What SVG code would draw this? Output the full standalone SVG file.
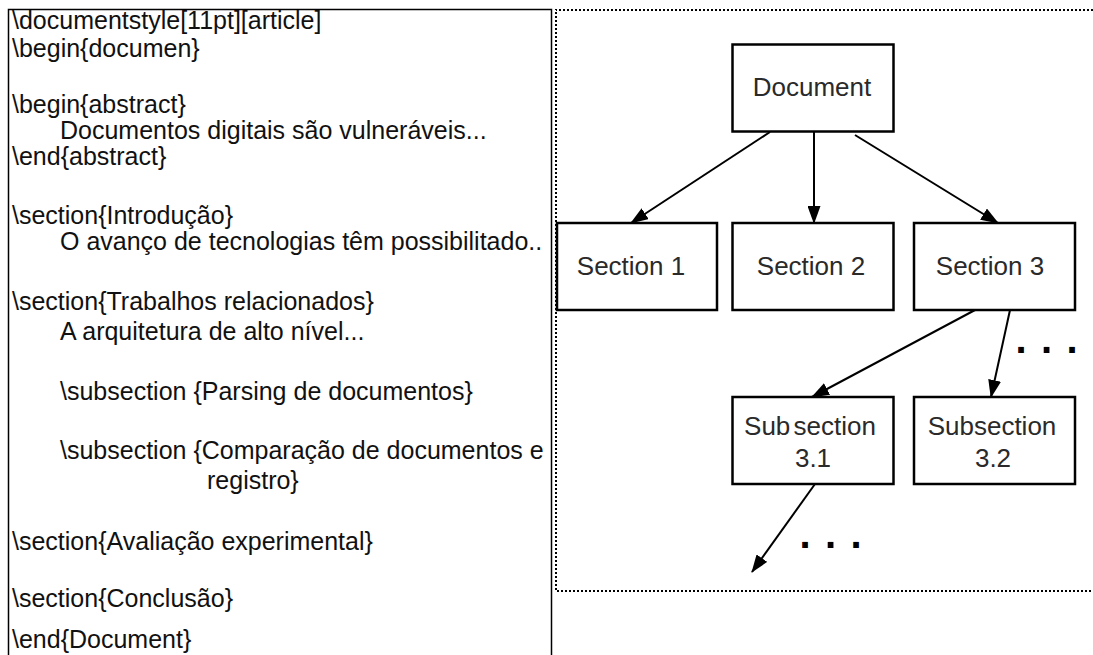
<svg xmlns="http://www.w3.org/2000/svg" width="1093" height="655" viewBox="0 0 1093 655">
<defs>
<style>
.src{font-family:"Liberation Sans",Arial,sans-serif;font-size:25px;fill:#111;}
.box{fill:#fff;stroke:#000;stroke-width:2.5;}
.lbl{font-family:"Liberation Sans",Arial,sans-serif;font-size:26px;fill:#2a2a2a;text-anchor:middle;}
.edge{stroke:#000;stroke-width:2;fill:none;marker-end:url(#ah);}
.dots{font-family:"Liberation Sans",Arial,sans-serif;font-weight:bold;font-size:40px;fill:#000;letter-spacing:14.4px;}
</style>
<marker id="ah" viewBox="0 0 18 13" refX="17" refY="6.5" markerWidth="18" markerHeight="13" markerUnits="userSpaceOnUse" orient="auto">
<path d="M0,0 L18,6.5 L0,13 z" fill="#000"/>
</marker>
</defs>
<rect width="1093" height="655" fill="#fff"/>
<g id="source-panel">
<path d="M8.5,660 V9.5 H551.5 V660" fill="none" stroke="#000" stroke-width="1.5"/>
<text class="src" x="12" y="29">\documentstyle[11pt][article]</text>
<text class="src" x="12" y="57">\begin{documen}</text>
<text class="src" x="12" y="113">\begin{abstract}</text>
<text class="src" x="60" y="139">Documentos digitais são vulneráveis...</text>
<text class="src" x="12" y="165">\end{abstract}</text>
<text class="src" x="12" y="224">\section{Introdução}</text>
<text class="src" x="60" y="250">O avanço de tecnologias têm possibilitado..</text>
<text class="src" x="12" y="310">\section{Trabalhos relacionados}</text>
<text class="src" x="60" y="340">A arquitetura de alto nível...</text>
<text class="src" x="60" y="400">\subsection {Parsing de documentos}</text>
<text class="src" x="60" y="459">\subsection {Comparação de documentos e</text>
<text class="src" x="207" y="489">registro}</text>
<text class="src" x="12" y="550">\section{Avaliação experimental}</text>
<text class="src" x="12" y="607">\section{Conclusão}</text>
<text class="src" x="12" y="648">\end{Document}</text>
</g>
<g id="tree-frame">
<path d="M1093,9.5 H555.5 V590.5 H1093" fill="none" stroke="#000" stroke-width="2" stroke-dasharray="2 2" shape-rendering="crispEdges"/>
</g>
<g id="connectors">
<line class="edge" x1="770" y1="132" x2="631" y2="223"/>
<line class="edge" x1="814" y1="132" x2="814" y2="223"/>
<line class="edge" x1="855" y1="135" x2="998" y2="223"/>
<line class="edge" x1="975" y1="310" x2="812" y2="397"/>
<line class="edge" x1="1010" y1="310" x2="991" y2="397"/>
<line class="edge" x1="815" y1="484" x2="752" y2="572"/>
</g>
<g id="node-document">
<rect class="box" x="732.5" y="44.5" width="161" height="87"/>
<text class="lbl" x="812" y="96">Document</text>
</g>
<g id="node-section1">
<rect class="box" x="557" y="223" width="160" height="87"/>
<text class="lbl" x="631" y="275">Section 1</text>
</g>
<g id="node-section2">
<rect class="box" x="732.5" y="223" width="161" height="87"/>
<text class="lbl" x="811" y="275">Section 2</text>
</g>
<g id="node-section3">
<rect class="box" x="914" y="223" width="161" height="87"/>
<text class="lbl" x="990" y="275">Section 3</text>
</g>
<g id="node-subsection31">
<rect class="box" x="732.5" y="397" width="161" height="87"/>
<text class="lbl" x="810" y="435" word-spacing="-4">Sub section</text>
<text class="lbl" x="813" y="467">3.1</text>
</g>
<g id="node-subsection32">
<rect class="box" x="914" y="397" width="161" height="87"/>
<text class="lbl" x="992" y="435">Subsection</text>
<text class="lbl" x="993" y="467">3.2</text>
</g>
<g id="ellipses">
<text class="dots" x="1015.4" y="353">...</text>
<text class="dots" x="799.4" y="548">...</text>
</g>
</svg>
